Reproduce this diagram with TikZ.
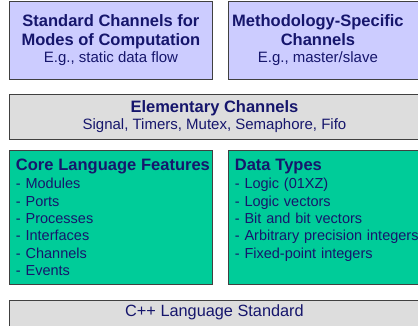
\documentclass[tikz,border=0pt]{standalone}
\usepackage{fontspec}
\setmainfont{Liberation Sans}
\usetikzlibrary{positioning}
\definecolor{socnavy}{RGB}{22,22,108}
\definecolor{soclavender}{RGB}{204,204,255}
\definecolor{socgrey}{RGB}{221,221,221}
\definecolor{socgreen}{RGB}{0,204,153}
\newlength{\SocBoxWidth}
\setlength{\SocBoxWidth}{203pt}
\newlength{\SocFullWidth}
\setlength{\SocFullWidth}{410pt}
\newcommand{\SocHead}[1]{\mbox{\fontsize{16.5}{19}\selectfont\bfseries #1}}
\tikzset{/soc/box/.style={
	shape=rectangle, draw=black!75, line width=0.9pt, inner sep=0, minimum width=\SocBoxWidth, anchor=north west, text=socnavy, align=center, font=\fontsize{15}{17}\selectfont
}}
\tikzset{/soc/lib/.style={/soc/box, fill=soclavender, minimum height=78pt
}}
\tikzset{/soc/chan/.style={/soc/box, fill=socgrey, minimum width=\SocFullWidth
}}
\tikzset{/soc/core/.style={/soc/box, fill=socgreen, minimum height=134pt, inner xsep=6.5pt, text width=\SocBoxWidth-13pt, align=left, font=\fontsize{14.5}{17.3}\selectfont
}}
\begin{document}
\begin{tikzpicture}
			\useasboundingbox (0,0) rectangle (418pt,-325pt);
			\path (9pt,-1pt) node[/soc/lib] (StdCh) {\SocHead{Standard Channels for}\\[2pt] \SocHead{Modes of Computation}\\ E.g., static data flow};
			\path (StdCh.north east) ++(15pt,0) node[/soc/lib] (MethCh) {};
			\path (MethCh.west) ++(90pt,0) node[text=socnavy, align=center, inner sep=0, font=\fontsize{15}{17}\selectfont] (MethTxt) {\SocHead{Methodology-Specific}\\[2pt] \SocHead{Channels}\\ E.g., master/slave};
			\path (StdCh.south west) ++(0,-14pt) node[/soc/chan, minimum height=45pt] (Elem) {\SocHead{Elementary Channels}\\ Signal, Timers, Mutex, Semaphore, Fifo};
			\path (Elem.south west) ++(0,-10pt) node[/soc/core] (Core) {\SocHead{Core Language Features}\\[1pt] - Modules\\ - Ports\\ - Processes\\ - Interfaces\\ - Channels\\ - Events};
			\path (Core.north east) ++(15pt,0) node[/soc/core] (DTypes) {\SocHead{Data Types}\\[1pt] - Logic (01XZ)\\ - Logic vectors\\ - Bit and bit vectors\\ - Arbitrary precision integers\\ - Fixed-point integers\\ ~};
			\path (Core.south west) ++(0,-15pt) node[/soc/chan, minimum height=30pt, text depth=10pt, font=\fontsize{16.3}{19}\selectfont] (Cpp) {C++ Language Standard};
		\end{tikzpicture}
\end{document}
